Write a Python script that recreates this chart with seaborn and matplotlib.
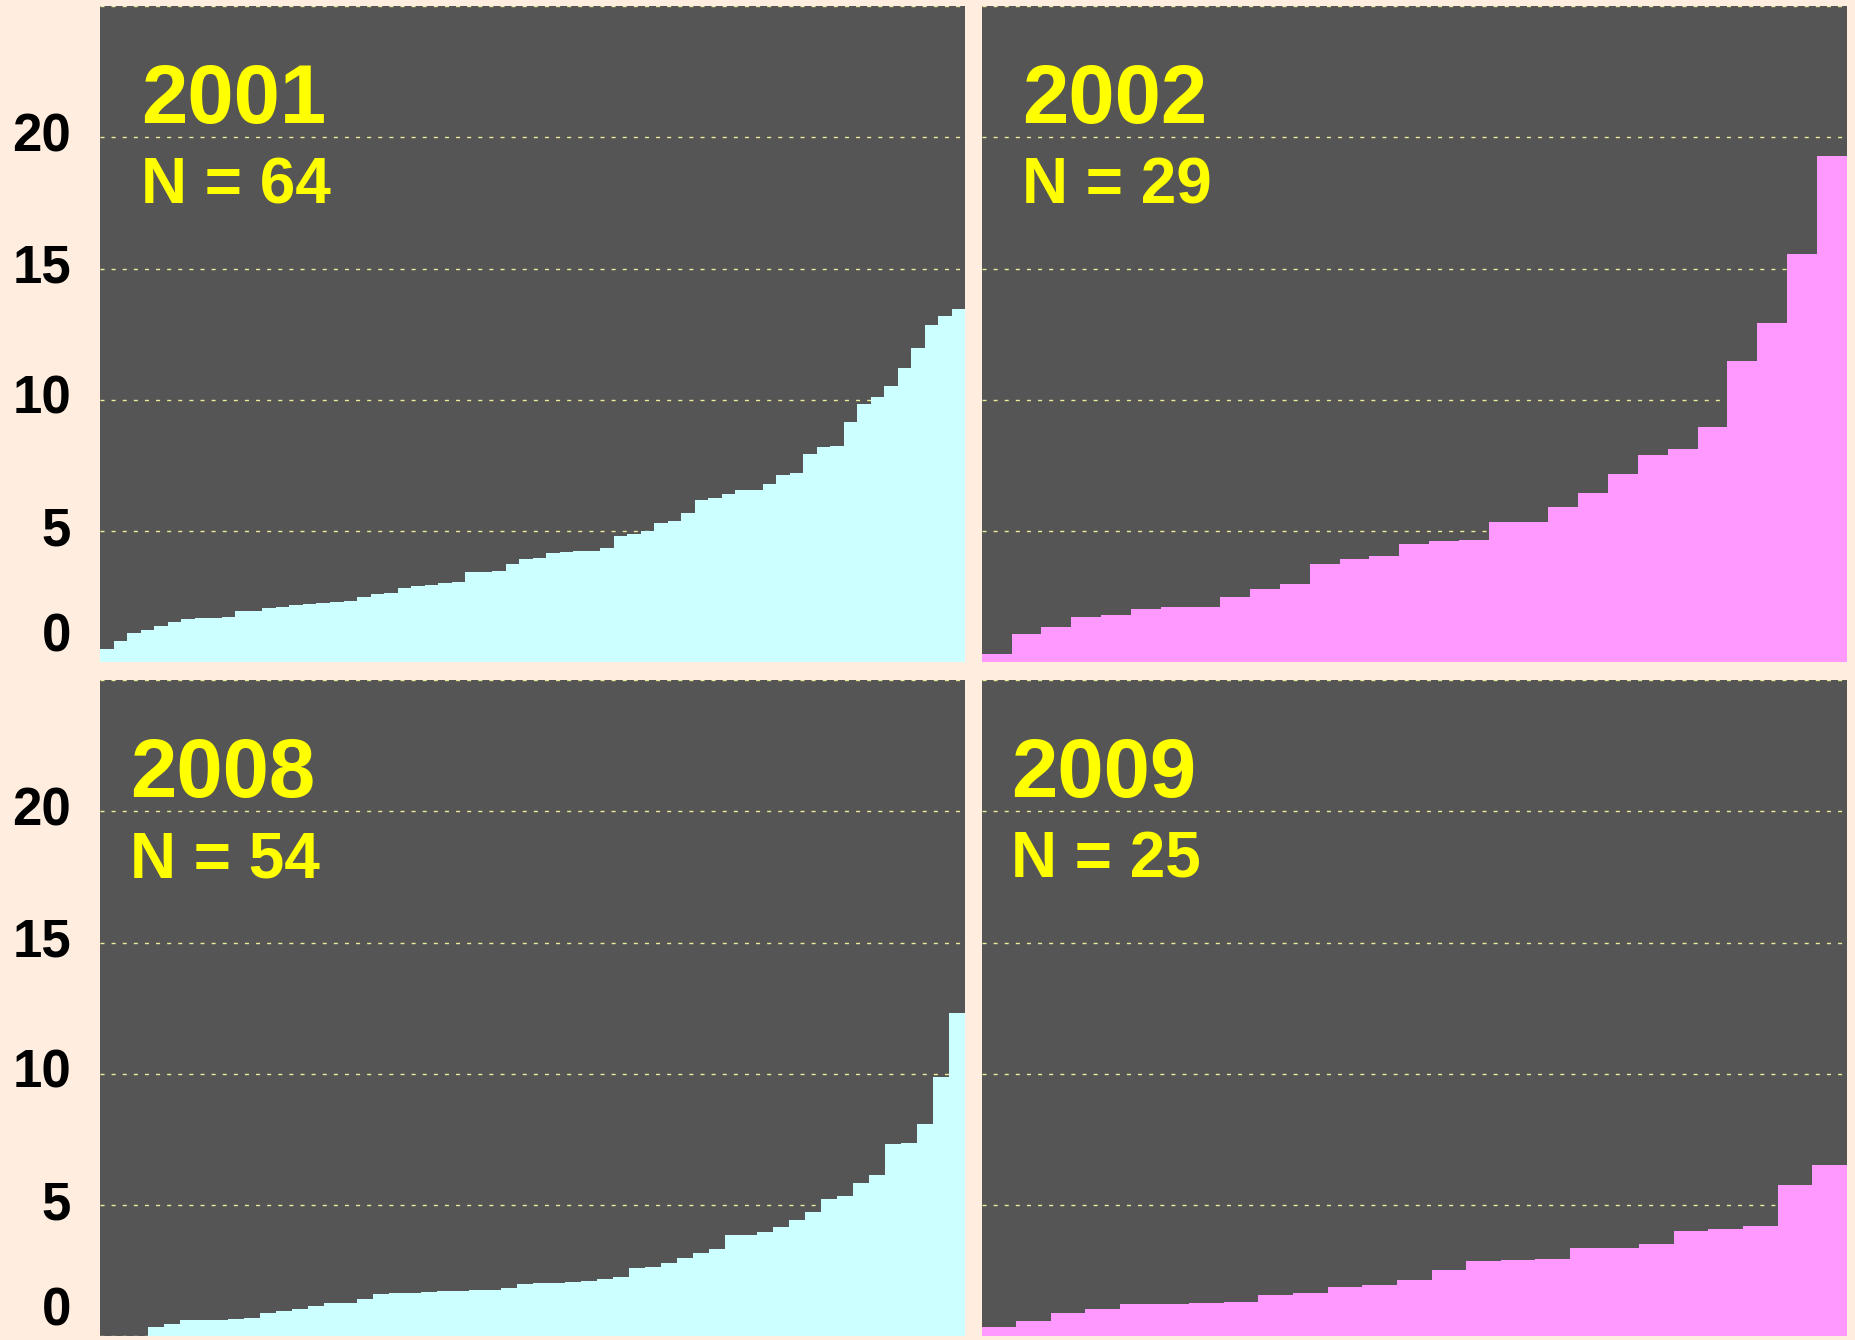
import matplotlib
matplotlib.use("Agg")
import matplotlib.pyplot as plt
import seaborn as sns
import pandas as pd

years = ["2001", "2002", "2008", "2009"]

values_2001 = [0.53, 0.83, 1.11, 1.24, 1.40, 1.55, 1.64, 1.68, 1.69, 1.75,
               1.96, 1.97, 2.08, 2.13, 2.19, 2.23, 2.27, 2.31, 2.33, 2.50,
               2.61, 2.66, 2.82, 2.93, 2.96, 3.01, 3.06, 3.43, 3.45, 3.49,
               3.76, 3.95, 3.97, 4.18, 4.22, 4.23, 4.24, 4.35, 4.81, 4.88,
               4.99, 5.33, 5.38, 5.71, 6.17, 6.26, 6.40, 6.55, 6.55, 6.78,
               7.13, 7.23, 7.94, 8.22, 8.26, 9.14, 9.85, 10.11, 10.53, 11.21,
               11.99, 12.85, 13.19, 13.47]
values_2002 = [0.34, 1.07, 1.34, 1.75, 1.81, 2.05, 2.10, 2.10, 2.51, 2.80,
               2.97, 3.76, 3.95, 4.07, 4.53, 4.64, 4.68, 5.34, 5.34, 5.93,
               6.46, 7.17, 7.91, 8.12, 8.95, 11.48, 12.91, 15.56, 19.27]
values_2008 = [0, 0, 0, 0.34, 0.47, 0.61, 0.62, 0.63, 0.66, 0.71,
               0.89, 0.96, 1.04, 1.14, 1.27, 1.29, 1.41, 1.60, 1.64, 1.65,
               1.70, 1.72, 1.72, 1.76, 1.77, 1.84, 2.00, 2.02, 2.05, 2.07,
               2.10, 2.18, 2.28, 2.59, 2.66, 2.78, 3.00, 3.19, 3.31, 3.85,
               3.85, 3.98, 4.18, 4.42, 4.74, 5.24, 5.36, 5.85, 6.16, 7.32,
               7.37, 8.08, 9.88, 12.31]
values_2009 = [0.34, 0.59, 0.90, 1.04, 1.23, 1.23, 1.27, 1.31, 1.59, 1.65,
               1.88, 1.97, 2.14, 2.51, 2.88, 2.91, 2.95, 3.36, 3.38, 3.52,
               4.02, 4.10, 4.21, 5.76, 6.53]

all_values = [values_2001, values_2002, values_2008, values_2009]
bar_colors = ["#ccffff", "#ff99ff", "#ccffff", "#ff99ff"]
y_ticks = [0, 5, 10, 15, 20, 25]
y_labels = ["0", "5", "10", "15", "20", ""]

plt.rcParams["font.family"] = ["Liberation Sans", "DejaVu Sans"]
plt.rcParams["font.weight"] = "bold"

fig, axes = plt.subplots(2, 2, figsize=(18.56, 13.40), dpi=100)
fig.patch.set_facecolor("#ffeee0")
fig.subplots_adjust(left=0.054, right=0.995, top=0.9955, bottom=0.0027,
                    wspace=0.019, hspace=0.0266)

for i, ax in enumerate(axes.flat):
    vals = all_values[i]
    df = pd.DataFrame({"rank": list(range(len(vals))), "value": vals})
    sns.barplot(data=df, x="rank", y="value", color=bar_colors[i],
                saturation=1, width=1.0, linewidth=0, ax=ax)
    ax.set_facecolor("#555555")
    ax.set_xlim(-0.5, len(vals) - 0.5)
    ax.set_ylim(0, 25)
    ax.set_yticks(y_ticks)
    ax.set_axisbelow(True)
    ax.yaxis.grid(True, color="#eeeb9a", linestyle=(0, (2.9, 5.1)), linewidth=1)
    ax.xaxis.grid(False)
    ax.set_xticks([])
    ax.set_xlabel("")
    ax.set_ylabel("")
    for s in ax.spines.values():
        s.set_visible(False)
    ax.tick_params(axis="y", length=0, pad=21)
    if i % 2 == 0:
        ax.set_yticklabels(y_labels, fontsize=38, fontweight="bold", color="black")
        for lab in ax.get_yticklabels():
            # the zero label sits above its line so it stays inside the figure
            lab.set_va("bottom" if lab.get_text() == "0" else "center")
    else:
        ax.set_yticklabels([])

    tx = 0.047 if i < 2 else 0.034
    ax.text(tx, 0.822, years[i], transform=ax.transAxes, color="#ffff00",
            fontsize=60, fontweight="bold", ha="left", va="baseline")
    ax.text(tx, 0.699, f"N = {len(vals)}", transform=ax.transAxes, color="#ffff00",
            fontsize=46, fontweight="bold", ha="left", va="baseline")

plt.savefig("out.png", facecolor=fig.get_facecolor())
